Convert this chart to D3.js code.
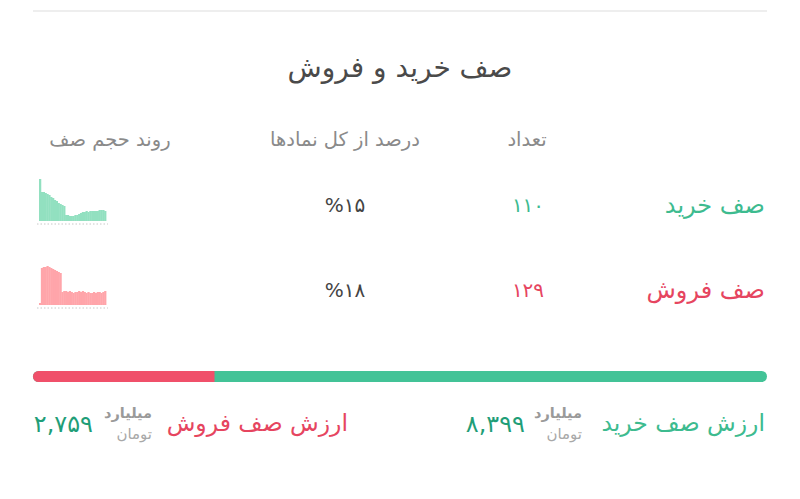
<!DOCTYPE html>
<html><head><meta charset="utf-8">
<script src="https://cdn.jsdelivr.net/npm/d3@7"></script>
<style>
html,body{margin:0;padding:0;background:#fff;}
svg{display:block;font-family:"DejaVu Sans","Noto Sans",sans-serif;}
</style></head>
<body><svg id="c" width="800" height="499"></svg>
<script>
// ---- data ----
const title = "صف خرید و فروش";
const headers = ["تعداد", "درصد از کل نمادها", "روند حجم صف"];
const rowLabels = ["صف خرید", "صف فروش"];
const counts = ["۱۱۰", "۱۲۹"];
const percents = ["%۱۵", "%۱۸"];
const buyTrend = [42,29,29,28,27,26,24,23,21,20,18,17,16,15,6,6,5,5,5,6,6,7,8,9,9,10,9,10,10,10,10,10,11,11,11,10];
const sellTrend = [2,37,38,38,39,38,37,36,35,34,33,32,13,14,14,13,14,13,12,13,13,14,13,14,13,12,13,12,12,13,12,13,13,12,13,14];
const valueLabels = ["ارزش صف خرید", "ارزش صف فروش"];
const values = [8399, 2759];
const valueText = ["۸,۳۹۹", "۲,۷۵۹"];
const unitTop = "میلیارد", unitBottom = "تومان";

const GREEN = "#43c397", RED = "#f0506a", GREEN_T = "#3dbb8f", RED_T = "#e6455f", NUM_G = "#1f9e78";
const svg = d3.select("#c");

// top divider
svg.append("line").attr("x1",33).attr("x2",767).attr("y1",11).attr("y2",11)
  .attr("stroke","#eeeeee").attr("stroke-width",2);

svg.append("text").attr("x",400).attr("y",77).attr("text-anchor","middle")
  .attr("font-size",28).attr("fill","#4a4a4a").text(title);

// headers
const hx = [527, 345, 110];
headers.forEach((h,i)=>svg.append("text").attr("x",hx[i]).attr("y",146)
  .attr("text-anchor","middle").attr("font-size",19.5).attr("fill","#8a8a8a").text(h));

const rowY = [213, 298];
const rowColors = [GREEN_T, RED_T];
const fills = ["#92e0c0", "#ffa5aa"];
const trends = [buyTrend, sellTrend];
rowLabels.forEach((l,i)=>{
  svg.append("text").attr("x",765).attr("y",rowY[i]).attr("text-anchor","end")
    .attr("font-size",24).attr("fill",rowColors[i]).text(l);
  svg.append("text").attr("x",528).attr("y",rowY[i]-1).attr("text-anchor","middle")
    .attr("font-size",20).attr("fill",rowColors[i]).text(counts[i]);
  svg.append("text").attr("x",345).attr("y",rowY[i]-1).attr("text-anchor","middle")
    .attr("font-size",20).attr("fill","#444").text(percents[i]);
  // sparkline
  const base = i===0 ? 221 : 305;
  const data = trends[i];
  const x = d3.scaleBand().domain(d3.range(data.length)).range([39,106]).padding(0);
  const y = d3.scaleLinear().domain([0,42]).range([base, base-42]);
  const g = svg.append("g");
  g.selectAll("rect").data(data).join("rect")
    .attr("x",(d,j)=>x(j)).attr("width",x.bandwidth()+0.4)
    .attr("y",d=>y(d)).attr("height",d=>base-y(d)).attr("fill",fills[i]);
  g.append("line").attr("x1",37).attr("x2",108).attr("y1",base+3).attr("y2",base+3)
    .attr("stroke","#c8c8c8").attr("stroke-width",1).attr("stroke-dasharray","1.5,2");
});

// proportion bar
const total = d3.sum(values);
const bx = d3.scaleLinear().domain([0,total]).range([33,767]);
const barY = 371, barH = 11;
svg.append("rect").attr("x",bx(0)).attr("y",barY).attr("width",bx(total)-bx(0)).attr("height",barH)
  .attr("rx",5.5).attr("fill",GREEN);
svg.append("path").attr("fill",RED).attr("d",()=>{
  const x0 = bx(0), x1 = bx(values[1]), r = 5.5;
  return `M${x0+r},${barY} H${x1} V${barY+barH} H${x0+r} A${r},${r} 0 0 1 ${x0+r},${barY} Z`;
});

// value labels
const lblRight = [765, 348];
const unitRight = [582, 152];
const numRight = [525, 93];
const lblColors = [GREEN_T, RED_T];
valueLabels.forEach((l,i)=>{
  svg.append("text").attr("x",lblRight[i]).attr("y",431).attr("text-anchor","end")
    .attr("font-size",23.5).attr("fill",lblColors[i]).text(l);
  svg.append("text").attr("x",unitRight[i]).attr("y",418).attr("text-anchor","end")
    .attr("font-size",14.5).attr("font-weight","bold").attr("fill","#9a9a9a").text(unitTop);
  svg.append("text").attr("x",unitRight[i]).attr("y",439).attr("text-anchor","end")
    .attr("font-size",15).attr("fill","#a8a8a8").text(unitBottom);
  svg.append("text").attr("x",numRight[i]).attr("y",432).attr("text-anchor","end")
    .attr("font-size",24).attr("fill",NUM_G).text(valueText[i]);
});
</script></body></html>
